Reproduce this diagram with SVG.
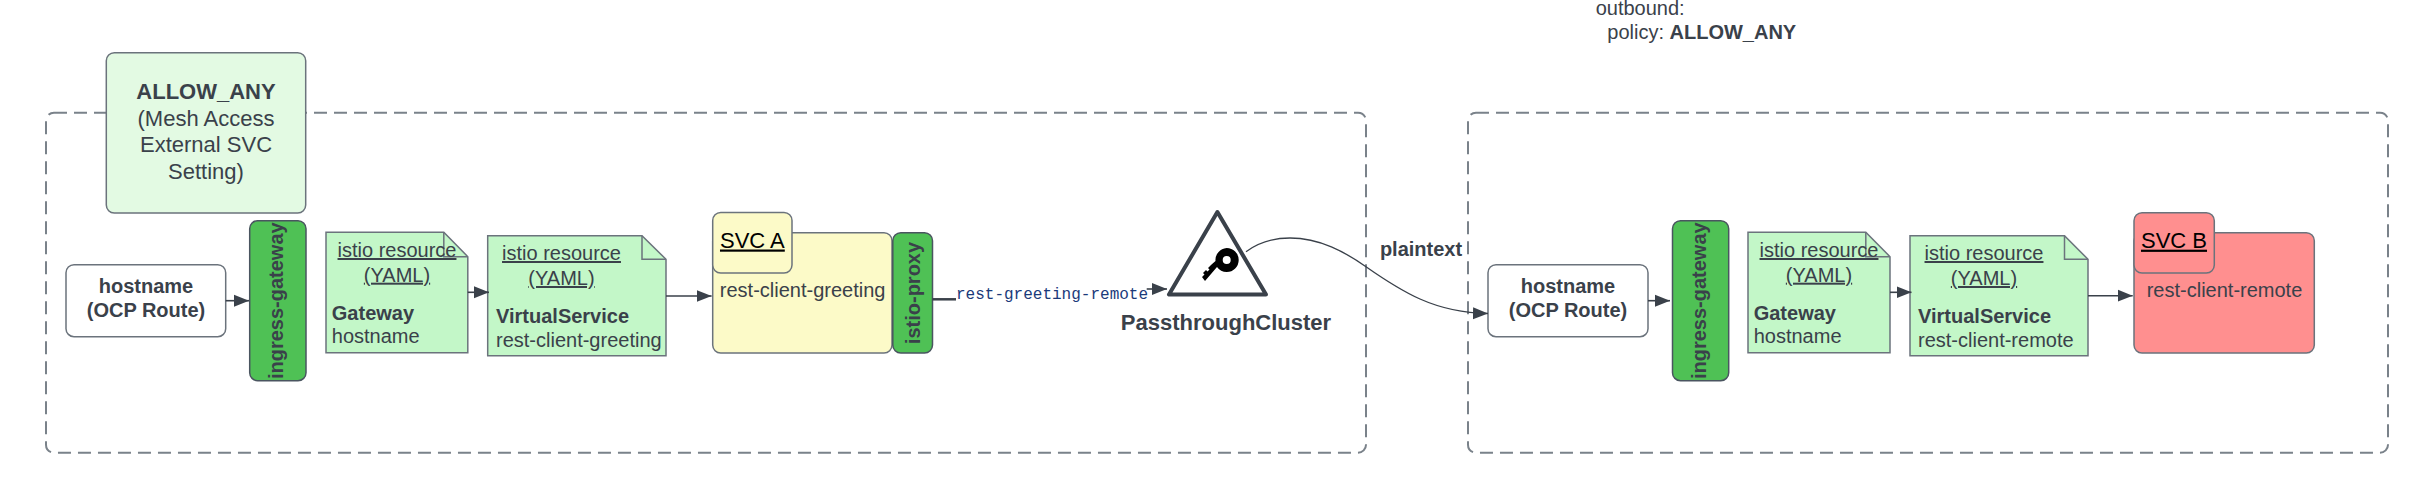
<svg xmlns="http://www.w3.org/2000/svg" width="2430" height="481" viewBox="0 0 2430 481">
<style>
text{font-family:"Liberation Sans",Arial,sans-serif;fill:#3a414a;font-size:20px}
.b{font-weight:700}
.m{text-anchor:middle}
.u{text-decoration:underline}
.s{stroke:#6b737c;stroke-width:1.5}
.dash{fill:none;stroke:#7a828a;stroke-width:2;stroke-dasharray:13 7}
.note{fill:#c3f7c8}
.gw{fill:#4fc155;stroke:#4a5560;stroke-width:1.5}
.c{fill:none;stroke:#3a414a;stroke-width:1.6}
</style>
<defs>
<marker id="a" markerUnits="userSpaceOnUse" markerWidth="16" markerHeight="14" refX="15" refY="6.5" orient="auto"><path d="M0,0.5L15,6.5L0,12.5Z" fill="#3a414a"/></marker>
</defs>
<rect x="46" y="112.7" width="1320" height="340" rx="8" class="dash"/>
<rect x="1468" y="112.7" width="920" height="340" rx="8" class="dash"/>
<g id="allow-any"><rect x="106.3" y="52.7" width="199.4" height="160.3" rx="8" fill="#e3fae3" class="s"/>
<text class="m" x="206" y="99" style="font-size:22px;font-weight:700">ALLOW_ANY</text>
<text class="m" x="206" y="125.7" style="font-size:22px">(Mesh Access</text>
<text class="m" x="206" y="152.3" style="font-size:22px">External SVC</text>
<text class="m" x="206" y="179" style="font-size:22px">Setting)</text></g>
<g id="route-a"><rect x="66" y="264.7" width="159.7" height="72" rx="8" fill="#fff" class="s"/>
<text class="m b" x="146" y="293">hostname</text><text class="m b" x="146" y="316.7">(OCP Route)</text></g>
<g id="ingress-a"><rect x="249.7" y="220.7" width="56.3" height="160" rx="8" class="gw"/>
<text class="m b" transform="translate(283,300.7) rotate(-90)">ingress-gateway</text></g>
<g id="gateway-a"><path d="M326,232.3H443.8L467.8,256.7V352.7H326Z" class="note s"/><path d="M443.8,232.3V256.7H467.8" fill="none" class="s"/>
<text class="m u" x="397" y="257">istio resource</text><text class="m u" x="397" y="281.7">(YAML)</text>
<text class="b" x="331.8" y="320">Gateway</text><text x="331.8" y="343">hostname</text></g>
<g id="vs-a"><path d="M487.7,235.7H642L666,259.3V355.7H487.7Z" class="note s"/><path d="M642,235.7V259.3H666" fill="none" class="s"/>
<text class="m u" x="561.5" y="260">istio resource</text><text class="m u" x="561.5" y="285">(YAML)</text>
<text class="b" x="496" y="322.7">VirtualService</text><text x="496" y="346.7">rest-client-greeting</text></g>
<g id="svc-a"><rect x="712.7" y="232.7" width="179.3" height="120.3" rx="8" fill="#fcfac8" class="s"/>
<rect x="712.7" y="212.5" width="79.3" height="60.5" rx="8" fill="#fcfac8" class="s"/>
<text class="m u" x="752.4" y="247.5" style="font-size:22px;fill:#000">SVC A</text>
<text x="719.8" y="296.7">rest-client-greeting</text></g>
<g id="proxy-a"><rect x="892.8" y="232.7" width="39.7" height="120.3" rx="8" class="gw"/>
<text class="m b" transform="translate(920,293) rotate(-90)">istio-proxy</text></g>
<g id="passthrough"><path d="M1217.4,212L1169,294.5H1266Z" fill="#fff" stroke="#3a414a" stroke-width="4" stroke-linejoin="round"/>
<path fill="#000" fill-rule="evenodd" d="M1226.7,248A12,12 0 1 1 1226.7,272A12,12 0 0 1 1217,267L1205,281L1202,277L1204.5,274.5L1203,273L1206,270L1207.5,271.5L1209.5,269.5L1208,268L1211,265L1215.5,261A12,12 0 0 1 1226.7,248ZM1226.7,256A4,4 0 1 0 1226.7,264A4,4 0 0 0 1226.7,256Z"/>
<text class="m b" x="1226" y="330" style="font-size:22px">PassthroughCluster</text></g>
<g id="route-b"><rect x="1488" y="264.7" width="160" height="72" rx="8" fill="#fff" class="s"/>
<text class="m b" x="1568" y="293">hostname</text><text class="m b" x="1568" y="316.7">(OCP Route)</text></g>
<g id="ingress-b"><rect x="1672.5" y="220.7" width="56.2" height="160" rx="8" class="gw"/>
<text class="m b" transform="translate(1706,300.7) rotate(-90)">ingress-gateway</text></g>
<g id="gateway-b"><path d="M1748,232.3H1865.8L1890,256.7V352.7H1748Z" class="note s"/><path d="M1865.8,232.3V256.7H1890" fill="none" class="s"/>
<text class="m u" x="1819" y="257">istio resource</text><text class="m u" x="1819" y="281.7">(YAML)</text>
<text class="b" x="1753.7" y="320">Gateway</text><text x="1753.7" y="343">hostname</text></g>
<g id="vs-b"><path d="M1910,235.7H2064.5L2088,259.3V355.7H1910Z" class="note s"/><path d="M2064.5,235.7V259.3H2088" fill="none" class="s"/>
<text class="m u" x="1984" y="260">istio resource</text><text class="m u" x="1984" y="285">(YAML)</text>
<text class="b" x="1918" y="322.7">VirtualService</text><text x="1918" y="346.7">rest-client-remote</text></g>
<g id="svc-b"><rect x="2134" y="232.7" width="180.3" height="120.3" rx="8" fill="#ff8f8f" class="s"/>
<rect x="2134" y="212.7" width="80.3" height="60.3" rx="8" fill="#ff8f8f" class="s"/>
<text class="m u" x="2174" y="247.7" style="font-size:22px;fill:#000">SVC B</text>
<text x="2146.7" y="297.3">rest-client-remote</text></g>
<g id="connectors">
<path d="M225.7,300.7H249" class="c" marker-end="url(#a)"/>
<path d="M467.8,292.3H489" class="c" marker-end="url(#a)"/>
<path d="M666,296H711.6" class="c" marker-end="url(#a)"/>
<path d="M932.5,299.3H956" class="c" style="stroke-width:2.5"/>
<path d="M1146.7,289H1167" class="c" marker-end="url(#a)"/>
<path d="M1246,251.7C1258,243 1274,238 1290,238C1320,238 1345,252 1366,266.7C1385,280 1400,290 1420,299C1438,307 1460,313 1488,313.5" class="c" style="stroke-width:1.3" marker-end="url(#a)"/>
<path d="M1648,300.7H1670" class="c" marker-end="url(#a)"/>
<path d="M1890,292.3H1911.5" class="c" marker-end="url(#a)"/>
<path d="M2088,295.7H2132.7" class="c" marker-end="url(#a)"/>
<text x="956" y="299" style="font-family:'Liberation Mono',monospace;font-size:16px;fill:#1a3a7a">rest-greeting-remote</text>
<text class="m b" x="1421" y="256">plaintext</text>
</g>
<g id="policy-note"><text x="1595.7" y="15">outbound:</text><text x="1607.3" y="39.3">policy: <tspan class="b">ALLOW_ANY</tspan></text></g>
</svg>
